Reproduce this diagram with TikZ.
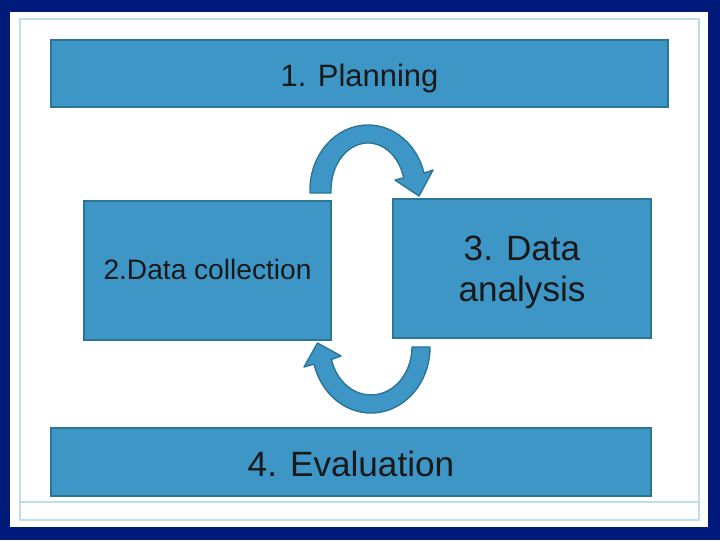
\documentclass[tikz,border=0pt]{standalone}
\usepackage{fontspec}
\setmainfont{Liberation Sans}
\usepackage{tikz}
\usetikzlibrary{positioning}
\usepackage{xcolor}
\definecolor{framenavy}{RGB}{0, 26, 122}
\definecolor{framecyan}{RGB}{190, 224, 228}
\definecolor{boxfill}{RGB}{62, 150, 199}
\definecolor{boxedge}{RGB}{42, 118, 148}
\definecolor{txtgray}{RGB}{25, 25, 25}

\begin{document}
\begin{tikzpicture}[x=0.025cm, y=-0.025cm,
  stage/.style={draw=boxedge, fill=boxfill, line width=1.3pt, inner sep=0pt},
  stagetext/.style={text=txtgray, align=center, inner sep=0pt},
  cyclearrow/.style={draw=boxedge, fill=boxfill, line width=1pt, line join=round}]

\useasboundingbox (0,0) rectangle (720,540);

% Slide frame
\fill[framenavy] (0,0) rectangle (720,540);
\fill[white] (10,12) rectangle (708,527);
\draw[framecyan, line width=1.2pt] (20,19) rectangle (699,520);
\draw[framecyan, line width=1pt] (20,502) -- (699,502);

% Stage boxes
\node[stage, minimum width=15.425cm, minimum height=1.675cm] (plan) at (359.5,73.5) {};
\node[stage, minimum width=6.175cm, minimum height=3.475cm] (collect) at (207.5,270.5) {};
\node[stage, minimum width=6.45cm, minimum height=3.475cm] (analyse) at (522,268.5) {};
\node[stage, minimum width=15cm, minimum height=1.7cm] (evaluate) at (351,462) {};

% Stage texts
\node[stagetext, font=\fontsize{22}{26}\selectfont] (plantxt)
  at ([yshift=-0.12cm]plan.center) {1. Planning};
\node[stagetext, font=\fontsize{20}{24}\selectfont] (collecttxt)
  at ([yshift=0.02cm]collect.center) {2.Data collection};
\node[stagetext, font=\fontsize{25}{29.5}\selectfont] (analysetxt)
  at ([yshift=-0.1cm]analyse.center) {3. Data\\analysis};
\node[stagetext, font=\fontsize{25}{29}\selectfont] (evaluatetxt)
  at ([yshift=-0.04cm]evaluate.center) {4. Evaluation};

% Curved block arrows between collection and analysis
\path[cyclearrow] (310,193) -- (310,190)
  arc[start angle=180, end angle=345, x radius=58, y radius=65]
  -- (433,170) -- (419,196) -- (395,180) -- (403.7,177.8)
  arc[start angle=345, end angle=180, x radius=37, y radius=47]
  -- (331,193) -- cycle;

\path[cyclearrow] (430,347)
  arc[start angle=0, end angle=165, x radius=59, y radius=66]
  -- (304,367) -- (317.5,343) -- (341,356) -- (331.4,359.4)
  arc[start angle=165, end angle=0, x radius=41, y radius=48]
  -- cycle;

\end{tikzpicture}
\end{document}
